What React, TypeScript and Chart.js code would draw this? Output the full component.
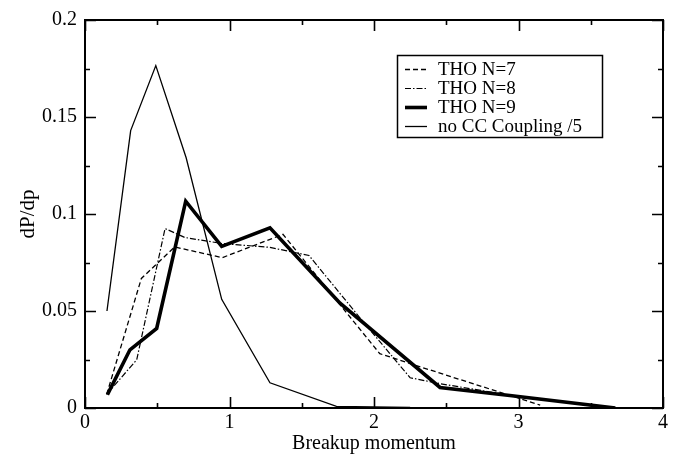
import React, { useEffect, useRef } from "react";
import { Chart, registerables } from "chart.js";

Chart.register(...registerables);

// THO N=7 (dashed)
const momN7 = [0.15, 0.39, 0.62, 0.95, 1.37, 2.04, 2.27, 3.15];
const dpN7 = [0.007, 0.0668, 0.083, 0.0775, 0.0895, 0.028, 0.0224, 0.0015];
// THO N=8 (dash-dot)
const momN8 = [0.15, 0.358, 0.554, 0.69, 0.946, 1.28, 1.55, 1.93, 2.25, 2.46, 2.94, 3.63];
const dpN8 = [0.007, 0.0249, 0.0925, 0.0879, 0.0848, 0.0828, 0.0786, 0.044, 0.0156, 0.0125, 0.0066, 0.0];
// THO N=9 (thick)
const momN9 = [0.155, 0.311, 0.496, 0.697, 0.946, 1.28, 1.765, 2.457, 2.94, 3.67];
const dpN9 = [0.0069, 0.030, 0.041, 0.1066, 0.0833, 0.0929, 0.054, 0.0106, 0.0064, 0.0];
// no CC Coupling /5 (thin solid)
const momNoCC = [0.152, 0.316, 0.49, 0.70, 0.946, 1.28, 1.74, 2.25];
const dpNoCC = [0.05, 0.143, 0.1765, 0.129, 0.056, 0.013, 0.0008, 0.0003];

const seriesLabels = ["THO N=7", "THO N=8", "THO N=9", "no CC Coupling /5"];

const xMajorTicks = [0, 1, 2, 3, 4];
const xMinorTicks = [0.5, 1.5, 2.5, 3.5];
const yMajorTicks = [0, 0.05, 0.1, 0.15, 0.2];
const yMinorTicks = [0.025, 0.075, 0.125, 0.175];
const yTickLabels = ["0", "0.05", "0.1", "0.15", "0.2"];

const FONT = "'Liberation Serif', 'Times New Roman', serif";

const toPts = (xs: number[], ys: number[]) => xs.map((x, i) => ({ x, y: ys[i] }));

const framePlugin = {
  id: "frameTicks",
  afterDatasetsDraw(chart: any) {
    const { ctx, chartArea: a, scales } = chart;
    const xs = scales.x;
    const ys = scales.y;
    ctx.save();
    ctx.strokeStyle = "#000";
    ctx.lineWidth = 1.6;
    ctx.beginPath();
    const major = 11;
    const minor = 5;
    xMajorTicks.forEach((v) => {
      const p = Math.round(xs.getPixelForValue(v)) + 0.5;
      ctx.moveTo(p, a.bottom); ctx.lineTo(p, a.bottom - major);
      ctx.moveTo(p, a.top); ctx.lineTo(p, a.top + major);
    });
    xMinorTicks.forEach((v) => {
      const p = Math.round(xs.getPixelForValue(v)) + 0.5;
      ctx.moveTo(p, a.bottom); ctx.lineTo(p, a.bottom - minor);
      ctx.moveTo(p, a.top); ctx.lineTo(p, a.top + minor);
    });
    yMajorTicks.forEach((v) => {
      const p = Math.round(ys.getPixelForValue(v)) + 0.5;
      ctx.moveTo(a.left, p); ctx.lineTo(a.left + major, p);
      ctx.moveTo(a.right, p); ctx.lineTo(a.right - major, p);
    });
    yMinorTicks.forEach((v) => {
      const p = Math.round(ys.getPixelForValue(v)) + 0.5;
      ctx.moveTo(a.left, p); ctx.lineTo(a.left + minor, p);
      ctx.moveTo(a.right, p); ctx.lineTo(a.right - minor, p);
    });
    ctx.stroke();
    ctx.lineWidth = 2;
    ctx.strokeRect(a.left, a.top, a.right - a.left, a.bottom - a.top);

    // legend
    const bx = 397, by = 55, bw = 205, bh = 82;
    ctx.lineWidth = 1.5;
    ctx.strokeRect(bx + 0.5, by + 0.5, bw, bh);
    ctx.font = `19px ${FONT}`;
    ctx.fillStyle = "#000";
    ctx.textBaseline = "middle";
    ctx.textAlign = "left";
    chart.data.datasets.forEach((ds: any, i: number) => {
      const ry = by + 14.5 + i * 19;
      ctx.beginPath();
      ctx.lineWidth = ds.borderWidth;
      ctx.setLineDash(ds.borderDash || []);
      ctx.moveTo(405, ry);
      ctx.lineTo(427, ry);
      ctx.stroke();
      ctx.setLineDash([]);
      ctx.fillText(ds.label, 438, ry + 1);
    });
    ctx.restore();
  },
};

export default function App() {
  const ref = useRef<HTMLCanvasElement | null>(null);
  useEffect(() => {
    if (!ref.current) return;
    const chart = new Chart(ref.current, {
      type: "line",
      data: {
        datasets: [
          { label: seriesLabels[0], data: toPts(momN7, dpN7), borderColor: "#000", borderWidth: 1.3, borderDash: [5, 3] },
          { label: seriesLabels[1], data: toPts(momN8, dpN8), borderColor: "#000", borderWidth: 1.2, borderDash: [6, 2, 1.5, 2] },
          { label: seriesLabels[2], data: toPts(momN9, dpN9), borderColor: "#000", borderWidth: 3.6 },
          { label: seriesLabels[3], data: toPts(momNoCC, dpNoCC), borderColor: "#000", borderWidth: 1.3 },
        ] as any,
      },
      options: {
        animation: false,
        responsive: false,
        maintainAspectRatio: false,
        elements: { point: { radius: 0 }, line: { tension: 0, fill: false } },
        layout: { padding: { left: 0, top: 11, right: 12, bottom: 0 } },
        plugins: { legend: { display: false }, tooltip: { enabled: false } },
        scales: {
          x: {
            type: "linear",
            min: 0,
            max: 4,
            grid: { display: false, drawTicks: false },
            border: { display: false },
            afterFit: (s: any) => { s.height = 52; },
            afterBuildTicks: (s: any) => { s.ticks = xMajorTicks.map((v) => ({ value: v })); },
            ticks: { color: "#000", padding: 3, maxRotation: 0, font: { family: FONT, size: 20 } },
            title: { display: true, text: "Breakup momentum", color: "#000", font: { family: FONT, size: 20 }, padding: { top: 0, bottom: 4 } },
          },
          y: {
            type: "linear",
            min: 0,
            max: 0.2,
            grid: { display: false, drawTicks: false },
            border: { display: false },
            afterFit: (s: any) => { s.width = 85; },
            afterBuildTicks: (s: any) => { s.ticks = yMajorTicks.map((v) => ({ value: v })); },
            ticks: {
              color: "#000",
              padding: 8,
              font: { family: FONT, size: 20 },
              callback: (v: any) => {
                const i = yMajorTicks.findIndex((t) => Math.abs(t - v) < 1e-9);
                return i >= 0 ? yTickLabels[i] : "";
              },
            },
            title: { display: true, text: "dP/dp", color: "#000", font: { family: FONT, size: 21 }, padding: { top: 16, bottom: 0 } },
          },
        },
      } as any,
      plugins: [framePlugin],
    });
    return () => chart.destroy();
  }, []);
  return (
    <div style={{ position: "fixed", left: 0, top: 0, width: 675, height: 460, background: "#fff" }}>
      <canvas ref={ref} width={675} height={460} style={{ display: "block", width: 675, height: 460 }} />
    </div>
  );
}
